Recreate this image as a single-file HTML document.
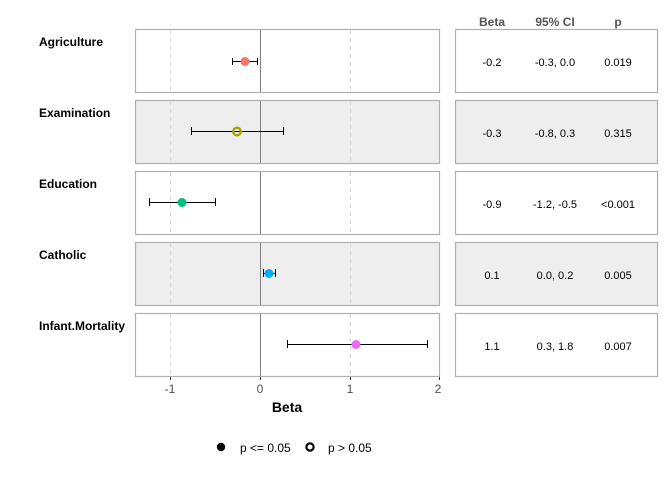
<!DOCTYPE html>
<html><head><style>body{margin:0;background:#fff}</style></head><body>
<svg width="672" height="480" xmlns="http://www.w3.org/2000/svg" font-family="Liberation Sans, Arial, sans-serif">
<rect width="672" height="480" fill="#fff"/>
<g font-size="12" font-weight="bold" fill="#000">
<text x="39" y="46">Agriculture</text>
<text x="39" y="117">Examination</text>
<text x="39" y="188">Education</text>
<text x="39" y="259">Catholic</text>
<text x="39" y="330">Infant.Mortality</text>
</g>
<g font-size="12" font-weight="bold" fill="#555" text-anchor="middle">
<text x="492" y="26">Beta</text><text x="555" y="26">95% CI</text><text x="618" y="26">p</text>
</g>
<g stroke="#b0b0b0" stroke-width="1.2">
<rect x="135.5" y="29.5" width="304" height="63" fill="#fff"/>
<rect x="135.5" y="100.5" width="304" height="63" fill="#eeeeee"/>
<rect x="135.5" y="171.5" width="304" height="63" fill="#fff"/>
<rect x="135.5" y="242.5" width="304" height="63" fill="#eeeeee"/>
<rect x="135.5" y="313.5" width="304" height="63" fill="#fff"/>
<rect x="455.5" y="29.5" width="202" height="63" fill="#fff"/>
<rect x="455.5" y="100.5" width="202" height="63" fill="#eeeeee"/>
<rect x="455.5" y="171.5" width="202" height="63" fill="#fff"/>
<rect x="455.5" y="242.5" width="202" height="63" fill="#eeeeee"/>
<rect x="455.5" y="313.5" width="202" height="63" fill="#fff"/>
</g>
<g stroke="#d8d8d8" stroke-dasharray="4,4">
<line x1="170.5" y1="30" x2="170.5" y2="92"/><line x1="350.5" y1="30" x2="350.5" y2="92"/>
<line x1="170.5" y1="101" x2="170.5" y2="163"/><line x1="350.5" y1="101" x2="350.5" y2="163"/>
<line x1="170.5" y1="172" x2="170.5" y2="234"/><line x1="350.5" y1="172" x2="350.5" y2="234"/>
<line x1="170.5" y1="243" x2="170.5" y2="305"/><line x1="350.5" y1="243" x2="350.5" y2="305"/>
<line x1="170.5" y1="314" x2="170.5" y2="376"/><line x1="350.5" y1="314" x2="350.5" y2="376"/>
</g>
<g stroke="#808080" stroke-width="1">
<line x1="260.5" y1="30" x2="260.5" y2="92"/><line x1="260.5" y1="101" x2="260.5" y2="163"/>
<line x1="260.5" y1="172" x2="260.5" y2="234"/><line x1="260.5" y1="243" x2="260.5" y2="305"/>
<line x1="260.5" y1="314" x2="260.5" y2="376"/>
</g>
<g stroke="#000" stroke-width="1">
<path d="M232.5 58v7M257.5 58v7M232 61.5h25"/>
<path d="M191.5 127v8M283.5 127v8M191 131.5h92"/>
<path d="M149.5 198v8M215.5 198v8M149 202.5h66"/>
<path d="M263.5 269v8M275.5 269v8M263 273.5h12"/>
<path d="M287.5 340v8M427.5 340v8M287 344.5h140"/>
</g>
<circle cx="245" cy="61.5" r="4.5" fill="#F8766D"/>
<circle cx="237" cy="131.5" r="3.8" fill="none" stroke="#A3A500" stroke-width="2.4"/>
<circle cx="182" cy="202.5" r="4.5" fill="#00BF7D"/>
<circle cx="269" cy="273.5" r="4.5" fill="#00B0F6"/>
<circle cx="356" cy="344.5" r="4.5" fill="#E76BF3"/>
<g stroke="#333"><line x1="170.5" y1="377" x2="170.5" y2="380"/><line x1="260.5" y1="377" x2="260.5" y2="380"/><line x1="350.5" y1="377" x2="350.5" y2="380"/><line x1="439.5" y1="377" x2="439.5" y2="380"/></g>
<g font-size="12" fill="#4d4d4d" text-anchor="middle">
<text x="170" y="393">-1</text><text x="260" y="393">0</text><text x="350" y="393">1</text><text x="438" y="393">2</text>
</g>
<text x="287" y="412" font-size="14" font-weight="bold" text-anchor="middle">Beta</text>
<g font-size="11" fill="#000" text-anchor="middle">
<text x="492" y="66">-0.2</text><text x="555" y="66">-0.3, 0.0</text><text x="618" y="66">0.019</text>
<text x="492" y="137">-0.3</text><text x="555" y="137">-0.8, 0.3</text><text x="618" y="137">0.315</text>
<text x="492" y="208">-0.9</text><text x="555" y="208">-1.2, -0.5</text><text x="618" y="208">&lt;0.001</text>
<text x="492" y="279">0.1</text><text x="555" y="279">0.0, 0.2</text><text x="618" y="279">0.005</text>
<text x="492" y="350">1.1</text><text x="555" y="350">0.3, 1.8</text><text x="618" y="350">0.007</text>
</g>
<circle cx="221" cy="447" r="4.2" fill="#000"/>
<circle cx="310" cy="447" r="3.6" fill="none" stroke="#000" stroke-width="2.2"/>
<g font-size="12" fill="#000"><text x="240" y="452">p &lt;= 0.05</text><text x="328" y="452">p &gt; 0.05</text></g>
</svg>
</body></html>
